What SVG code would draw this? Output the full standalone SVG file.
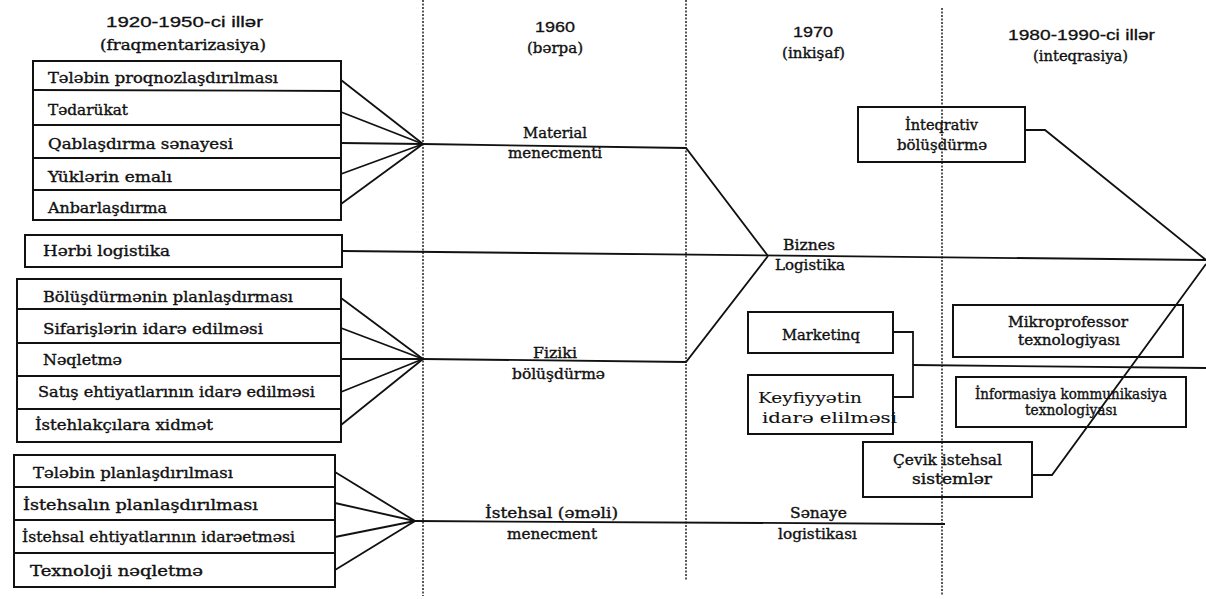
<svg xmlns="http://www.w3.org/2000/svg" width="1206" height="599" viewBox="0 0 1206 599">
<style>
.bg{fill:#ffffff}
.box{fill:none;stroke:#111;stroke-width:2}
.sep{stroke:#111;stroke-width:1.8}
.ln{fill:none;stroke:#111;stroke-width:1.8;stroke-linejoin:miter}
.dash{stroke:#222;stroke-width:1.5;stroke-dasharray:2 1.5}
.t{font-family:"DejaVu Serif","Liberation Serif",serif;font-size:14px;fill:#111;stroke:#111;stroke-width:0.35}
.h{font-family:"Liberation Sans","Arial",sans-serif;font-size:15px;fill:#111;stroke:#111;stroke-width:0.3}
.k{stroke-width:0.1}
</style>
<rect class="bg" x="0" y="0" width="1206" height="599"/>

<g id="dividers">
<line class="dash" x1="423" y1="0" x2="423" y2="596"/>
<line class="dash" x1="686" y1="0" x2="686" y2="580"/>
<line class="dash" x1="942" y1="8" x2="942" y2="596"/>
</g>

<g id="headers">
<text class="h" x="106" y="27" textLength="157" lengthAdjust="spacingAndGlyphs">1920-1950-ci illər</text>
<text class="t" x="100" y="50" font-size="16" textLength="166" lengthAdjust="spacingAndGlyphs">(fraqmentarizasiya)</text>
<text class="h" x="535" y="32" textLength="40" lengthAdjust="spacingAndGlyphs">1960</text>
<text class="t" x="527" y="53" textLength="56" lengthAdjust="spacingAndGlyphs">(bərpa)</text>
<text class="h" x="793" y="37" textLength="40" lengthAdjust="spacingAndGlyphs">1970</text>
<text class="t" x="782" y="58" textLength="63" lengthAdjust="spacingAndGlyphs">(inkişaf)</text>
<text class="h" x="1008" y="40" textLength="147" lengthAdjust="spacingAndGlyphs">1980-1990-ci illər</text>
<text class="t" x="1033" y="61" textLength="95" lengthAdjust="spacingAndGlyphs">(inteqrasiya)</text>
</g>

<g id="group-fragment-1">
<rect class="box" x="33" y="61" width="308" height="159"/>
<line class="sep" x1="33" y1="90" x2="341" y2="91"/>
<line class="sep" x1="33" y1="125" x2="341" y2="125"/>
<line class="sep" x1="33" y1="158" x2="341" y2="158"/>
<line class="sep" x1="33" y1="190" x2="341" y2="190"/>
<text class="t" x="48" y="83" textLength="230" lengthAdjust="spacingAndGlyphs">Tələbin proqnozlaşdırılması</text>
<text class="t" x="48" y="115" textLength="80" lengthAdjust="spacingAndGlyphs">Tədarükat</text>
<text class="t" x="48" y="149" textLength="185" lengthAdjust="spacingAndGlyphs">Qablaşdırma sənayesi</text>
<text class="t" x="48" y="182" textLength="124" lengthAdjust="spacingAndGlyphs">Yüklərin emalı</text>
<text class="t" x="48" y="213" textLength="119" lengthAdjust="spacingAndGlyphs">Anbarlaşdırma</text>
</g>

<g id="node-herbi">
<rect class="box" x="25" y="235" width="317" height="32"/>
<text class="t" x="43" y="256" textLength="127" lengthAdjust="spacingAndGlyphs">Hərbi logistika</text>
</g>

<g id="group-fragment-2">
<rect class="box" x="17" y="279" width="324" height="163"/>
<line class="sep" x1="17" y1="309" x2="341" y2="309"/>
<line class="sep" x1="17" y1="343" x2="341" y2="343"/>
<line class="sep" x1="17" y1="376" x2="341" y2="376"/>
<line class="sep" x1="17" y1="409" x2="341" y2="409"/>
<text class="t" x="43" y="302" textLength="250" lengthAdjust="spacingAndGlyphs">Bölüşdürmənin planlaşdırması</text>
<text class="t" x="43" y="334" textLength="220" lengthAdjust="spacingAndGlyphs">Sifarişlərin idarə edilməsi</text>
<text class="t" x="43" y="365" textLength="79" lengthAdjust="spacingAndGlyphs">Nəqletmə</text>
<text class="t" x="38" y="397" textLength="277" lengthAdjust="spacingAndGlyphs">Satış ehtiyatlarının idarə edilməsi</text>
<text class="t" x="35" y="430" textLength="178" lengthAdjust="spacingAndGlyphs">İstehlakçılara xidmət</text>
</g>

<g id="group-fragment-3">
<rect class="box" x="14" y="455" width="321" height="132"/>
<line class="sep" x1="14" y1="487" x2="335" y2="487"/>
<line class="sep" x1="14" y1="520" x2="335" y2="520"/>
<line class="sep" x1="14" y1="553" x2="335" y2="553"/>
<text class="t" x="33" y="478" textLength="200" lengthAdjust="spacingAndGlyphs">Tələbin planlaşdırılması</text>
<text class="t" x="23" y="510" textLength="235" lengthAdjust="spacingAndGlyphs">İstehsalın planlaşdırılması</text>
<text class="t" x="22" y="542" font-size="12.5" textLength="273" lengthAdjust="spacingAndGlyphs">İstehsal ehtiyatlarının idarəetməsi</text>
<text class="t" x="30" y="576" textLength="173" lengthAdjust="spacingAndGlyphs">Texnoloji nəqletmə</text>
</g>

<g id="node-integrativ">
<rect class="box" x="858" y="107" width="167" height="55"/>
<text class="t" x="905" y="130" textLength="73" lengthAdjust="spacingAndGlyphs">İnteqrativ</text>
<text class="t" x="897" y="150" textLength="90" lengthAdjust="spacingAndGlyphs">bölüşdürmə</text>
</g>

<g id="node-marketinq">
<rect class="box" x="748" y="312" width="145" height="41"/>
<text class="t" x="782" y="340" textLength="78" lengthAdjust="spacingAndGlyphs">Marketinq</text>
</g>

<g id="node-keyfiyyet">
<rect class="box" x="748" y="375" width="145" height="59"/>
<text class="t k" x="758" y="403" font-size="18" textLength="104" lengthAdjust="spacingAndGlyphs">Keyfiyyətin</text>
<text class="t k" x="762" y="423" font-size="17" textLength="135" lengthAdjust="spacingAndGlyphs">idarə elilməsi</text>
</g>

<g id="node-mikro">
<rect class="box" x="953" y="305" width="230" height="52"/>
<text class="t" x="1008" y="327" textLength="120" lengthAdjust="spacingAndGlyphs">Mikroprofessor</text>
<text class="t" x="1018" y="345" textLength="102" lengthAdjust="spacingAndGlyphs">texnologiyası</text>
</g>

<g id="node-informasiya">
<rect class="box" x="956" y="377" width="230" height="50"/>
<text class="t" x="975" y="399" font-size="13" textLength="192" lengthAdjust="spacingAndGlyphs">İnformasiya kommunikasiya</text>
<text class="t" x="1025" y="415" font-size="13" textLength="92" lengthAdjust="spacingAndGlyphs">texnologiyası</text>
</g>

<g id="node-cevik">
<rect class="box" x="863" y="442" width="169" height="55"/>
<text class="t" x="893" y="465" textLength="109" lengthAdjust="spacingAndGlyphs">Çevik istehsal</text>
<text class="t" x="912" y="484" textLength="80" lengthAdjust="spacingAndGlyphs">sistemlər</text>
</g>

<g id="connectors">
<polyline class="ln" points="341,80 423,144"/>
<polyline class="ln" points="341,112 423,144"/>
<polyline class="ln" points="341,143 423,144"/>
<polyline class="ln" points="341,174 423,144"/>
<polyline class="ln" points="341,204 423,144"/>
<polyline class="ln" points="423,144 686,148 768,256"/>
<polyline class="ln" points="342,251 1206,260"/>
<polyline class="ln" points="341,298 423,359"/>
<polyline class="ln" points="341,328 423,359"/>
<polyline class="ln" points="341,359 423,359"/>
<polyline class="ln" points="341,392 423,359"/>
<polyline class="ln" points="341,425 423,359"/>
<polyline class="ln" points="423,359 686,362 768,256"/>
<polyline class="ln" points="335,472 415,521"/>
<polyline class="ln" points="335,503 415,521"/>
<polyline class="ln" points="335,537 415,521"/>
<polyline class="ln" points="335,570 415,521"/>
<polyline class="ln" points="415,521 945,524"/>
<polyline class="ln" points="1025,130 1045,130 1206,260"/>
<polyline class="ln" points="1032,475 1052,475 1206,264"/>
<polyline class="ln" points="893,332 913,332 913,397 893,397"/>
<polyline class="ln" points="913,365 1206,368"/>
</g>

<g id="connector-labels">
<text class="t" x="523" y="138" textLength="64" lengthAdjust="spacingAndGlyphs">Material</text>
<text class="t" x="508" y="158" textLength="94" lengthAdjust="spacingAndGlyphs">menecmenti</text>
<text class="t" x="783" y="250" textLength="52" lengthAdjust="spacingAndGlyphs">Biznes</text>
<text class="t" x="775" y="270" textLength="70" lengthAdjust="spacingAndGlyphs">Logistika</text>
<text class="t" x="533" y="358" textLength="44" lengthAdjust="spacingAndGlyphs">Fiziki</text>
<text class="t" x="512" y="379" textLength="93" lengthAdjust="spacingAndGlyphs">bölüşdürmə</text>
<text class="t" x="485" y="518" font-size="16" textLength="133" lengthAdjust="spacingAndGlyphs">İstehsal (əməli)</text>
<text class="t" x="507" y="539" textLength="90" lengthAdjust="spacingAndGlyphs">menecment</text>
<text class="t" x="790" y="518" textLength="57" lengthAdjust="spacingAndGlyphs">Sənaye</text>
<text class="t" x="778" y="539" textLength="79" lengthAdjust="spacingAndGlyphs">logistikası</text>
</g>
</svg>
